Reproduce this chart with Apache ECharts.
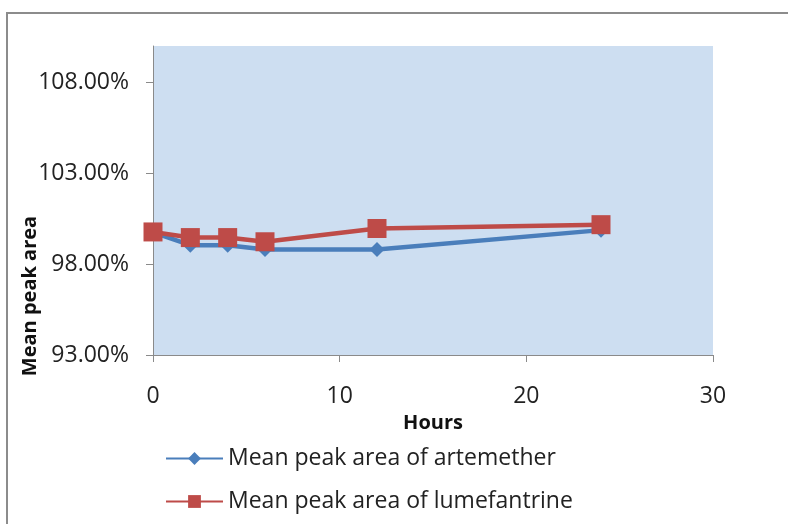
<!DOCTYPE html>
<html>
<head>
<meta charset="utf-8">
<script src="https://cdn.jsdelivr.net/npm/echarts@6/dist/echarts.min.js"></script>
<style>
  html, body { margin: 0; padding: 0; background: #ffffff; }
  #chart { width: 788px; height: 524px; }
</style>
</head>
<body>
<div id="chart"></div>
<script>
// Sampling times (hours) and mean peak areas (% of initial)
const hours = [0, 2, 4, 6, 12, 24];
const artemether = [99.75, 99.04, 99.04, 98.8, 98.8, 99.87];
const lumefantrine = [99.77, 99.46, 99.46, 99.23, 99.96, 100.17];
const yTicks = [93, 98, 103, 108];
const xTicks = [0, 10, 20, 30];
const seriesNames = ['Mean peak area of artemether', 'Mean peak area of lumefantrine'];

const font = '"Open Sans", "Liberation Sans", sans-serif';
const chart = echarts.init(document.getElementById('chart'));

const pairs = (ys) => hours.map((h, i) => [h, ys[i]]);

chart.setOption({
  backgroundColor: '#ffffff',
  animation: false,
  graphic: [
    {
      type: 'rect',
      shape: { x: 7, y: 13, width: 800, height: 530 },
      style: { fill: 'none', stroke: '#8c8c8c', lineWidth: 2 },
      z: 0
    },
    {
      type: 'text',
      x: 30, y: 296,
      rotation: Math.PI / 2,
      style: {
        text: 'Mean peak area',
        font: 'bold 20px ' + font,
        fill: '#111',
        align: 'center',
        verticalAlign: 'middle'
      }
    }
  ],
  grid: {
    left: 153, right: 75, top: 46, bottom: 169,
    show: true,
    backgroundColor: '#cddef1',
    borderWidth: 0
  },
  xAxis: {
    type: 'value',
    min: 0, max: 30, interval: 10,
    name: 'Hours',
    nameLocation: 'middle',
    nameGap: 56,
    nameTextStyle: { fontFamily: font, fontSize: 20, fontWeight: 'bold', color: '#111' },
    axisLine: { show: true, lineStyle: { color: '#8a8a8a', width: 1 } },
    axisTick: { show: true, length: 7, lineStyle: { color: '#8a8a8a' }, customValues: xTicks },
    axisLabel: { fontFamily: font, fontSize: 23, color: '#222', margin: 30, customValues: xTicks },
    splitLine: { show: false }
  },
  yAxis: {
    type: 'value',
    min: 93, max: 110,
    axisLine: { show: true, lineStyle: { color: '#8a8a8a', width: 1 } },
    axisTick: { show: true, length: 7, lineStyle: { color: '#8a8a8a' }, customValues: yTicks },
    axisLabel: {
      fontFamily: font, fontSize: 23, color: '#222', margin: 24,
      customValues: yTicks,
      formatter: (v) => v.toFixed(2) + '%'
    },
    splitLine: { show: false }
  },
  legend: {
    orient: 'vertical',
    left: 160, top: 442,
    itemWidth: 57, itemHeight: 16,
    itemGap: 20,
    textStyle: { fontFamily: font, fontSize: 23, color: '#222' },
    data: seriesNames
  },
  series: [
    {
      name: seriesNames[0],
      type: 'line',
      data: pairs(artemether),
      symbol: 'diamond',
      symbolSize: 15,
      lineStyle: { color: '#4a7ebb', width: 4.5 },
      itemStyle: { color: '#4a7ebb' },
      z: 2
    },
    {
      name: seriesNames[1],
      type: 'line',
      data: pairs(lumefantrine),
      symbol: 'rect',
      symbolSize: 19,
      lineStyle: { color: '#be4b48', width: 4.5 },
      itemStyle: { color: '#be4b48' },
      z: 3
    }
  ]
});
</script>
</body>
</html>
